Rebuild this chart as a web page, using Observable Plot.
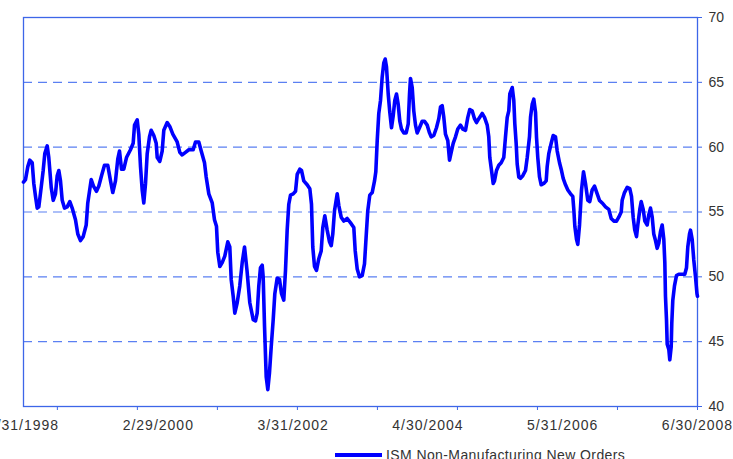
<!DOCTYPE html>
<html><head><meta charset="utf-8">
<script src="https://cdn.jsdelivr.net/npm/d3@7"></script>
<script src="https://cdn.jsdelivr.net/npm/@observablehq/plot@0.6"></script>
<style>
html,body{margin:0;padding:0;background:#fff;overflow:hidden}
#wrap{position:relative;width:733px;height:459px;overflow:hidden;font-family:"Liberation Sans",Arial,sans-serif}
#wrap svg{position:absolute;left:0;top:0}
g[aria-label="x-axis tick label"] text{letter-spacing:1px}
#legline{position:absolute;left:335px;top:453.2px;width:47px;height:3.6px;background:#0000ff}
#legtext{position:absolute;left:386px;top:447px;font-size:14px;line-height:16px;color:#333;letter-spacing:0.4px;white-space:nowrap}
</style></head><body><div id="wrap"></div>
<script>
// Months elapsed since 1/31/1998
const months = [0,0.37,0.80,1.17,1.61,1.91,2.23,2.54,2.84,3.28,3.65,3.95,4.40,4.69,5.14,5.51,5.93,6.25,6.55,6.86,7.18,7.60,8.10,8.59,9.03,9.64,10.07,10.57,11.07,11.63,11.92,12.56,12.98,13.54,13.97,14.47,15.02,15.63,16.14,16.56,17.06,17.49,17.80,18.18,18.60,19.10,19.84,20.34,20.59,21.09,21.38,21.70,22.01,22.31,22.63,22.94,23.37,23.68,24.17,24.61,24.80,25.28,25.72,26.02,26.65,27.13,27.69,28.50,28.99,29.43,30.04,30.66,31.47,31.90,32.51,32.96,33.57,33.88,34.37,35.00,35.42,35.79,36.03,36.41,36.85,37.33,37.89,38.26,38.52,38.89,39.19,39.63,40.11,40.56,40.99,41.45,41.97,42.60,43.03,43.34,43.64,43.95,44.27,44.45,44.70,45.01,45.31,45.62,45.94,46.31,46.61,47.05,47.48,47.85,48.27,48.59,48.90,49.20,49.52,50.02,50.45,50.76,51.24,51.56,51.98,52.61,53.10,53.41,53.65,53.97,54.34,54.77,55.21,55.51,55.88,56.32,56.75,57.07,57.36,57.68,58.18,58.48,58.92,59.40,60.03,60.77,61.26,61.52,61.89,62.31,62.81,63.24,63.56,63.85,64.22,64.67,65.10,65.34,65.60,65.89,66.21,66.52,66.82,67.08,67.32,67.64,67.93,68.25,68.56,68.86,69.18,69.49,69.79,70.10,70.53,70.97,71.35,71.59,71.77,72.09,72.38,72.70,73.01,73.44,73.94,74.37,74.87,75.30,75.61,76.09,76.59,77.02,77.34,77.65,77.95,78.26,78.69,79.01,79.32,79.69,80.12,80.54,81.05,81.47,81.97,82.40,82.77,83.21,83.64,84.01,84.44,85.07,85.50,86.00,86.29,86.48,86.80,87.11,87.35,87.72,88.15,88.59,89.07,89.39,89.71,90.00,90.19,90.64,90.93,91.12,91.37,91.56,91.86,92.17,92.60,93.10,93.42,93.84,94.03,94.34,94.64,94.96,95.14,95.38,95.70,96.01,96.49,96.94,97.12,97.42,97.87,98.24,98.66,98.98,99.41,99.78,100.09,100.52,100.95,101.45,101.87,102.06,102.25,102.56,102.80,103.12,103.49,103.86,104.23,104.65,105.02,105.47,105.90,106.40,106.82,107.32,107.94,108.55,109.00,109.48,109.98,110.40,110.85,111.03,111.46,111.96,112.44,112.76,113.07,113.37,113.69,113.93,114.30,114.56,114.93,115.23,115.67,115.97,116.28,116.60,116.89,117.21,117.52,117.82,118.14,118.45,118.75,118.94,119.06,119.25,119.38,119.68,119.86,120.12,120.23,120.42,120.73,121.10,121.53,122.16,122.64,122.96,123.20,123.52,123.70,124.01,124.31,124.63,124.90,125.00];
// ISM Non-Manufacturing New Orders index
const newOrders = [57.3,57.5,58.5,59.0,58.8,57.2,56.2,55.3,55.4,56.9,58.2,59.5,60.1,59.2,56.9,55.9,56.4,57.8,58.2,57.4,55.9,55.3,55.4,55.8,55.3,54.4,53.3,52.8,53.1,54.0,55.7,57.5,57.0,56.6,57.0,57.8,58.6,58.6,57.4,56.5,57.4,59.1,59.7,58.3,58.3,59.2,59.8,60.3,61.7,62.1,61.0,58.5,56.7,55.7,57.2,59.5,60.8,61.3,60.9,60.3,59.2,58.9,59.7,61.3,61.9,61.6,61.0,60.4,59.6,59.4,59.6,59.8,59.8,60.4,60.4,59.7,58.8,57.7,56.4,55.7,54.4,53.9,51.9,50.8,51.1,51.6,52.7,52.3,49.8,48.5,47.2,48.0,49.3,51.1,52.3,50.5,48.0,46.7,46.6,47.2,49.3,50.7,50.9,50.0,46.2,42.3,41.3,42.6,44.6,46.7,48.7,49.9,49.8,48.7,48.2,50.5,53.6,55.6,56.3,56.4,56.6,57.9,58.3,58.2,57.4,57.1,56.8,55.6,52.3,50.8,50.5,51.4,52.0,53.8,54.7,53.6,52.7,52.4,53.3,55.1,56.4,55.5,54.6,54.3,54.5,54.1,53.8,52.0,50.6,50.0,50.1,51.0,53.2,55.1,56.3,56.5,57.4,58.1,60.5,62.6,63.6,65.4,66.5,66.8,66.2,64.1,62.7,61.5,62.4,63.6,64.1,63.3,62.0,61.4,61.1,61.1,61.8,64.1,65.3,64.6,62.8,61.7,61.1,61.5,62.0,62.0,61.7,61.1,60.8,60.9,61.5,62.2,63.1,63.2,62.3,61.0,60.5,59.0,59.6,60.3,60.8,61.4,61.7,61.4,61.3,62.3,62.9,62.8,62.2,61.9,62.2,62.6,62.3,61.7,60.8,59.2,58.2,57.2,57.4,58.2,58.6,58.8,59.2,60.8,62.3,62.8,64.1,64.6,63.6,61.8,60.3,58.7,57.7,57.6,57.8,58.2,59.2,60.8,62.3,63.3,63.7,62.7,60.8,59.2,57.7,57.1,57.2,57.4,58.5,59.5,60.3,60.9,60.8,59.7,58.8,58.2,57.6,57.1,56.7,56.4,56.2,55.2,53.9,52.9,52.5,54.0,56.7,58.1,57.2,55.9,55.8,56.7,57.0,56.4,55.9,55.7,55.4,55.2,54.5,54.3,54.3,54.6,55.0,55.9,56.5,56.9,56.8,56.2,54.6,53.6,53.1,54.0,55.2,55.8,55.2,54.3,54.0,54.8,55.3,54.6,53.3,52.8,52.2,52.6,53.5,54.0,52.9,51.1,48.5,46.7,44.8,44.4,43.6,44.6,46.4,48.2,49.3,50.1,50.2,50.2,50.2,50.7,52.3,53.3,53.6,52.9,51.3,50.0,48.7,48.5];

// Axis labels and ticks
const xLabelMonths = [0, 25, 50, 75, 100, 125];
const xLabels = ["1/31/1998", "2/29/2000", "3/31/2002", "4/30/2004", "5/31/2006", "6/30/2008"];
const xTickMonths = [6.28, 21.12, 35.96, 50.8, 65.64, 80.48, 95.32, 110.16, 125];
const yTicks = [40, 45, 50, 55, 60, 65, 70];
const yGrid = [45, 50, 55, 60, 65];
const seriesName = "ISM Non-Manufacturing New Orders";

const data = months.map((m, i) => ({m, v: newOrders[i]}));
const labelMap = new Map(xLabelMonths.map((m, i) => [m, xLabels[i]]));

const axisColor = "#3d66e8";
const gridColor = "#5b80f2";
const textColor = "#333333";

const chart = Plot.plot({
  width: 733,
  height: 440,
  marginLeft: 23,
  marginRight: 36,
  marginTop: 17,
  marginBottom: 34,
  style: {fontFamily: "'Liberation Sans', Arial, sans-serif", fontSize: "14px", background: "white"},
  x: {domain: [0, 125], axis: null},
  y: {domain: [40, 70], axis: null},
  marks: [
    Plot.ruleY(yGrid, {stroke: gridColor, strokeWidth: 1.2, strokeDasharray: "9,6"}),
    Plot.frame({stroke: axisColor, strokeWidth: 1.3}),
    Plot.axisY(yTicks, {anchor: "right", tickSize: 4, tickPadding: 7, stroke: axisColor, fill: textColor, fontSize: 14, label: null}),
    Plot.axisX(xTickMonths, {anchor: "bottom", tickSize: 4, tickFormat: () => "", stroke: axisColor, label: null}),
    Plot.axisX(xLabelMonths, {anchor: "bottom", tickSize: 0, tickPadding: 14, tickFormat: d => labelMap.get(d), fill: textColor, fontSize: 14, label: null}),
    Plot.line(data, {x: "m", y: "v", stroke: "#0000ff", strokeWidth: 3.6, strokeLinejoin: "round", strokeLinecap: "round"})
  ]
});

const wrap = document.getElementById("wrap");
wrap.appendChild(chart);
const ll = document.createElement("div"); ll.id = "legline"; wrap.appendChild(ll);
const lt = document.createElement("div"); lt.id = "legtext"; lt.textContent = seriesName; wrap.appendChild(lt);
</script></body></html>
